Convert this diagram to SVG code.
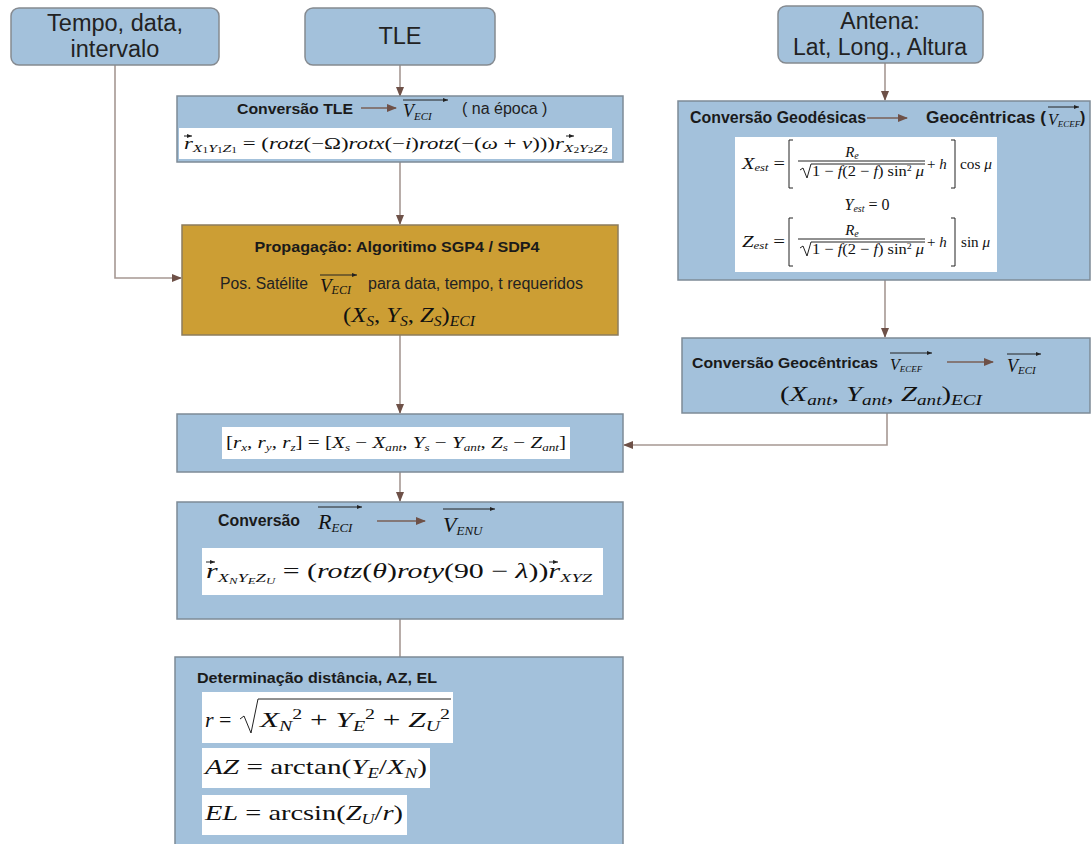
<svg xmlns="http://www.w3.org/2000/svg" width="1092" height="844" viewBox="0 0 1092 844">
<defs>
<style>
.box{fill:#A3C1DB;stroke:#7E8B97;stroke-width:1.5}
.rbox{fill:#A3C1DB;stroke:#858A90;stroke-width:1.5}
.gold{fill:#CC9E34;stroke:#8C7C5C;stroke-width:1.5}
.wh{fill:#FFFFFF}
.con{fill:none;stroke:#A69893;stroke-width:1.6}
.inarr{fill:none;stroke:#7A5F56;stroke-width:1.4}
.vec{fill:none;stroke:#222;stroke-width:1}
.t{font-family:"Liberation Sans",Arial,sans-serif;fill:#222}
.b{font-family:"Liberation Sans",Arial,sans-serif;font-weight:bold;fill:#1a1a1a}
.m{font-family:"Liberation Serif","DejaVu Serif",serif;fill:#111}
.i{font-style:italic}
.n{font-style:normal}
</style>
<marker id="ah" markerWidth="10" markerHeight="8" refX="9" refY="4" orient="auto" markerUnits="userSpaceOnUse">
<path d="M0,0 L10,4 L0,8 Z" fill="#6E5148"/>
</marker>
<marker id="va" markerWidth="5" markerHeight="4" refX="5" refY="2" orient="auto" markerUnits="userSpaceOnUse">
<path d="M0,0 L5,2 L0,4 Z" fill="#222"/>
</marker>
</defs>

<g id="connectors">
<path class="con" d="M115,65 V278 H181" marker-end="url(#ah)"/>
<path class="con" d="M400,65 V96" marker-end="url(#ah)"/>
<path class="con" d="M400,162 V224" marker-end="url(#ah)"/>
<path class="con" d="M400,335 V413" marker-end="url(#ah)"/>
<path class="con" d="M400,472 V501" marker-end="url(#ah)"/>
<path class="con" d="M400,619 V657"/>
<path class="con" d="M885,63 V100" marker-end="url(#ah)"/>
<path class="con" d="M885,280 V337" marker-end="url(#ah)"/>
<path class="con" d="M887,413 V445 H624" marker-end="url(#ah)"/>
</g>

<g id="n-tempo">
<rect class="rbox" x="11" y="8" width="208" height="57" rx="8"/>
<text class="t" font-size="23.5" text-anchor="middle" x="115" y="31">Tempo, data,</text>
<text class="t" font-size="23.5" text-anchor="middle" x="115" y="57">intervalo</text>
</g>

<g id="n-tle">
<rect class="rbox" x="305" y="8" width="190" height="57" rx="8"/>
<text class="t" font-size="23.5" text-anchor="middle" x="400" y="44">TLE</text>
</g>

<g id="n-antena">
<rect class="rbox" x="778" y="6" width="205" height="57" rx="8"/>
<text class="t" font-size="23" text-anchor="middle" x="880" y="29">Antena:</text>
<text class="t" font-size="23" text-anchor="middle" x="880" y="55">Lat, Long., Altura</text>
</g>

<g id="n-convtle">
<rect class="box" x="177" y="96" width="446" height="66"/>
<text class="b" font-size="15" x="237" y="114" textLength="116" lengthAdjust="spacingAndGlyphs">Conversão TLE</text>
<path class="inarr" d="M361,108 H396" marker-end="url(#ah)"/>
<text class="m i" font-size="18" x="403" y="117">V<tspan font-size="11" dy="3">ECI</tspan></text>
<path class="vec" d="M403,100 H448" marker-end="url(#va)"/>
<text class="t" font-size="16" x="462" y="114">( na época )</text>
<rect class="wh" x="179" y="128" width="433" height="31"/>
<text class="m" font-size="16" x="184" y="149" textLength="424" lengthAdjust="spacingAndGlyphs"><tspan class="i">r</tspan><tspan class="i" font-size="11" dy="3">X</tspan><tspan font-size="8" dy="1">1</tspan><tspan class="i" font-size="11" dy="-1">Y</tspan><tspan font-size="8" dy="1">1</tspan><tspan class="i" font-size="11" dy="-1">Z</tspan><tspan font-size="8" dy="1">1</tspan><tspan dy="-4"> = (</tspan><tspan class="i">rotz</tspan>(−Ω)<tspan class="i">rotx</tspan>(−<tspan class="i">i</tspan>)<tspan class="i">rotz</tspan>(−(<tspan class="i">ω</tspan> + <tspan class="i">ν</tspan>)))<tspan class="i">r</tspan><tspan class="i" font-size="11" dy="3">X</tspan><tspan font-size="8" dy="1">2</tspan><tspan class="i" font-size="11" dy="-1">Y</tspan><tspan font-size="8" dy="1">2</tspan><tspan class="i" font-size="11" dy="-1">Z</tspan><tspan font-size="8" dy="1">2</tspan></text>
<path class="vec" d="M184,136 H192" marker-end="url(#va)"/>
<path class="vec" d="M566,136 H574" marker-end="url(#va)"/>
</g>

<g id="n-geodesic">
<rect class="box" x="678" y="101" width="412" height="179"/>
<text class="b" font-size="16" x="690" y="123" textLength="176" lengthAdjust="spacingAndGlyphs">Conversão Geodésicas</text>
<path class="inarr" d="M867,118 H907" marker-end="url(#ah)"/>
<text class="b" font-size="16" x="926" y="123" textLength="120" lengthAdjust="spacingAndGlyphs">Geocêntricas (</text>
<text class="m i" font-size="16" x="1048" y="125">V<tspan font-size="9" dy="2">ECEF</tspan></text>
<path class="vec" d="M1048,107 H1079" marker-end="url(#va)"/>
<text class="b" font-size="16" x="1080" y="123">)</text>
<rect class="wh" x="735" y="137" width="262" height="135"/>
<!-- X_est -->
<text class="m" font-size="16" x="742" y="169" textLength="43" lengthAdjust="spacingAndGlyphs"><tspan class="i">X</tspan><tspan class="i" font-size="10" dy="2">est</tspan><tspan dy="-2"> =</tspan></text>
<path class="vec" d="M793,140 H789 V188 H793" stroke-width="1.4"/>
<text class="m i" font-size="15" x="852" y="157" text-anchor="middle">R<tspan font-size="10" dy="2">e</tspan></text>
<line class="vec" x1="798" y1="161" x2="925" y2="161"/>
<path class="vec" d="M800,170 L803,168 L807,178 L811,164 H925"/>
<text class="m" font-size="15" x="812" y="176" textLength="112" lengthAdjust="spacingAndGlyphs">1 − <tspan class="i">f</tspan>(2 − <tspan class="i">f</tspan>) sin<tspan font-size="9" dy="-5">2</tspan><tspan dy="5"> </tspan><tspan class="i">μ</tspan></text>
<text class="m" font-size="15" x="927" y="169">+ <tspan class="i">h</tspan></text>
<path class="vec" d="M951,140 H955 V188 H951" stroke-width="1.4"/>
<text class="m" font-size="15" x="960" y="169" textLength="32" lengthAdjust="spacingAndGlyphs">cos <tspan class="i">μ</tspan></text>
<!-- Y_est -->
<text class="m" font-size="16" x="867" y="210" text-anchor="middle"><tspan class="i">Y</tspan><tspan class="i" font-size="10" dy="2">est</tspan><tspan dy="-2"> = 0</tspan></text>
<!-- Z_est -->
<text class="m" font-size="16" x="742" y="247" textLength="43" lengthAdjust="spacingAndGlyphs"><tspan class="i">Z</tspan><tspan class="i" font-size="10" dy="2">est</tspan><tspan dy="-2"> =</tspan></text>
<path class="vec" d="M793,218 H789 V266 H793" stroke-width="1.4"/>
<text class="m i" font-size="15" x="852" y="235" text-anchor="middle">R<tspan font-size="10" dy="2">e</tspan></text>
<line class="vec" x1="798" y1="239" x2="925" y2="239"/>
<path class="vec" d="M800,248 L803,246 L807,256 L811,242 H925"/>
<text class="m" font-size="15" x="812" y="254" textLength="112" lengthAdjust="spacingAndGlyphs">1 − <tspan class="i">f</tspan>(2 − <tspan class="i">f</tspan>) sin<tspan font-size="9" dy="-5">2</tspan><tspan dy="5"> </tspan><tspan class="i">μ</tspan></text>
<text class="m" font-size="15" x="927" y="247">+ <tspan class="i">h</tspan></text>
<path class="vec" d="M951,218 H955 V266 H951" stroke-width="1.4"/>
<text class="m" font-size="15" x="961" y="247" textLength="29" lengthAdjust="spacingAndGlyphs">sin <tspan class="i">μ</tspan></text>
</g>

<g id="n-propagacao">
<rect class="gold" x="182" y="225" width="436" height="110"/>
<text class="b" font-size="14" x="397" y="252" text-anchor="middle" textLength="285" lengthAdjust="spacingAndGlyphs">Propagação: Algoritimo SGP4 / SDP4</text>
<text class="t" font-size="16" x="220" y="289" textLength="88" lengthAdjust="spacingAndGlyphs">Pos. Satélite</text>
<text class="m i" font-size="19" x="320" y="292">V<tspan font-size="12" dy="2">ECI</tspan></text>
<path class="vec" d="M320,275 H357" marker-end="url(#va)"/>
<text class="t" font-size="16" x="368" y="289" textLength="215" lengthAdjust="spacingAndGlyphs">para data, tempo, t requeridos</text>
<text class="m" font-size="22" x="343" y="322" textLength="132" lengthAdjust="spacingAndGlyphs">(<tspan class="i">X</tspan><tspan class="i" font-size="14" dy="4">S</tspan><tspan dy="-4">, </tspan><tspan class="i">Y</tspan><tspan class="i" font-size="14" dy="4">S</tspan><tspan dy="-4">, </tspan><tspan class="i">Z</tspan><tspan class="i" font-size="14" dy="4">S</tspan><tspan dy="-4">)</tspan><tspan class="i" font-size="14" dy="4">ECI</tspan></text>
</g>

<g id="n-geocentric">
<rect class="box" x="682" y="338" width="408" height="75"/>
<text class="b" font-size="15" x="692" y="368" textLength="186" lengthAdjust="spacingAndGlyphs">Conversão Geocêntricas</text>
<text class="m i" font-size="16" x="890" y="370">V<tspan font-size="9" dy="2">ECEF</tspan></text>
<path class="vec" d="M890,353 H932" marker-end="url(#va)"/>
<path class="inarr" d="M947,362 H993" marker-end="url(#ah)"/>
<text class="m i" font-size="18" x="1007" y="372">V<tspan font-size="11" dy="2">ECI</tspan></text>
<path class="vec" d="M1007,354 H1041" marker-end="url(#va)"/>
<text class="m" font-size="21" x="780" y="401" textLength="202" lengthAdjust="spacingAndGlyphs">(<tspan class="i">X</tspan><tspan class="i" font-size="14" dy="4">ant</tspan><tspan dy="-4">, </tspan><tspan class="i">Y</tspan><tspan class="i" font-size="14" dy="4">ant</tspan><tspan dy="-4">, </tspan><tspan class="i">Z</tspan><tspan class="i" font-size="14" dy="4">ant</tspan><tspan dy="-4">)</tspan><tspan class="i" font-size="14" dy="4">ECI</tspan></text>
</g>

<g id="n-diferenca">
<rect class="box" x="177" y="414" width="446" height="58"/>
<rect class="wh" x="222" y="427" width="348" height="32"/>
<text class="m" font-size="16" x="226" y="448" textLength="340" lengthAdjust="spacingAndGlyphs">[<tspan class="i">r</tspan><tspan class="i" font-size="10" dy="3">x</tspan><tspan dy="-3">, </tspan><tspan class="i">r</tspan><tspan class="i" font-size="10" dy="3">y</tspan><tspan dy="-3">, </tspan><tspan class="i">r</tspan><tspan class="i" font-size="10" dy="3">z</tspan><tspan dy="-3">] = [</tspan><tspan class="i">X</tspan><tspan class="i" font-size="10" dy="3">s</tspan><tspan dy="-3"> − </tspan><tspan class="i">X</tspan><tspan class="i" font-size="10" dy="3">ant</tspan><tspan dy="-3">, </tspan><tspan class="i">Y</tspan><tspan class="i" font-size="10" dy="3">s</tspan><tspan dy="-3"> − </tspan><tspan class="i">Y</tspan><tspan class="i" font-size="10" dy="3">ant</tspan><tspan dy="-3">, </tspan><tspan class="i">Z</tspan><tspan class="i" font-size="10" dy="3">s</tspan><tspan dy="-3"> − </tspan><tspan class="i">Z</tspan><tspan class="i" font-size="10" dy="3">ant</tspan><tspan dy="-3">]</tspan></text>
</g>

<g id="n-enu">
<rect class="box" x="177" y="502" width="446" height="117"/>
<text class="b" font-size="16" x="218" y="526" textLength="82" lengthAdjust="spacingAndGlyphs">Conversão</text>
<text class="m i" font-size="22" x="318" y="529">R<tspan font-size="13" dy="3">ECI</tspan></text>
<path class="vec" d="M318,507 H362" marker-end="url(#va)"/>
<path class="inarr" d="M377,521 H425" marker-end="url(#ah)"/>
<text class="m i" font-size="22" x="443" y="532">V<tspan font-size="13" dy="3">ENU</tspan></text>
<path class="vec" d="M443,509 H495" marker-end="url(#va)"/>
<rect class="wh" x="202" y="548" width="401" height="47"/>
<text class="m" font-size="21" x="206" y="578" textLength="386" lengthAdjust="spacingAndGlyphs"><tspan class="i">r</tspan><tspan class="i" font-size="13" dy="4">X</tspan><tspan class="i" font-size="9" dy="2">N</tspan><tspan class="i" font-size="13" dy="-2">Y</tspan><tspan class="i" font-size="9" dy="2">E</tspan><tspan class="i" font-size="13" dy="-2">Z</tspan><tspan class="i" font-size="9" dy="2">U</tspan><tspan dy="-6"> = (</tspan><tspan class="i">rotz</tspan>(<tspan class="i">θ</tspan>)<tspan class="i">roty</tspan>(90 − <tspan class="i">λ</tspan>))<tspan class="i">r</tspan><tspan class="i" font-size="13" dy="4">XYZ</tspan></text>
<path class="vec" d="M206,562 H215" marker-end="url(#va)"/>
<path class="vec" d="M549,562 H558" marker-end="url(#va)"/>
</g>

<g id="n-determinacao">
<rect class="box" x="175" y="657" width="448" height="190"/>
<text class="b" font-size="15" x="197" y="683" textLength="240" lengthAdjust="spacingAndGlyphs">Determinação distância, AZ, EL</text>
<rect class="wh" x="202" y="692" width="251" height="51"/>
<text class="m" font-size="22" x="205" y="727"><tspan class="i">r</tspan> =</text>
<path class="vec" d="M240,719 L244,716 L251,733 L258,699 H451" stroke-width="1.2"/>
<text class="m" font-size="22" x="260" y="727" textLength="190" lengthAdjust="spacingAndGlyphs"><tspan class="i">X</tspan><tspan class="i" font-size="14" dy="4">N</tspan><tspan font-size="14" dy="-12">2</tspan><tspan dy="8"> + </tspan><tspan class="i">Y</tspan><tspan class="i" font-size="14" dy="4">E</tspan><tspan font-size="14" dy="-12">2</tspan><tspan dy="8"> + </tspan><tspan class="i">Z</tspan><tspan class="i" font-size="14" dy="4">U</tspan><tspan font-size="14" dy="-12">2</tspan></text>
<rect class="wh" x="202" y="748" width="228" height="40"/>
<text class="m" font-size="22" x="205" y="774" textLength="222" lengthAdjust="spacingAndGlyphs"><tspan class="i">AZ</tspan> = arctan(<tspan class="i">Y</tspan><tspan class="i" font-size="14" dy="4">E</tspan><tspan dy="-4">/</tspan><tspan class="i">X</tspan><tspan class="i" font-size="14" dy="4">N</tspan><tspan dy="-4">)</tspan></text>
<rect class="wh" x="202" y="795" width="205" height="40"/>
<text class="m" font-size="22" x="205" y="820" textLength="198" lengthAdjust="spacingAndGlyphs"><tspan class="i">EL</tspan> = arcsin(<tspan class="i">Z</tspan><tspan class="i" font-size="14" dy="4">U</tspan><tspan dy="-4">/</tspan><tspan class="i">r</tspan>)</text>
</g>
</svg>
